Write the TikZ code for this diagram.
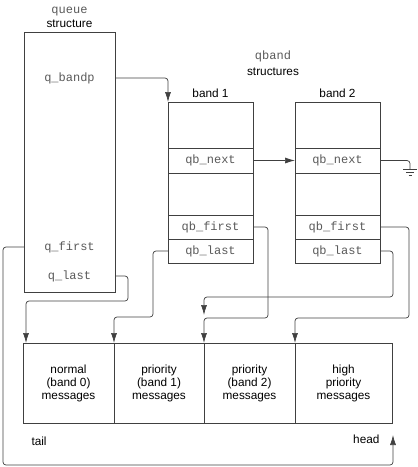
\documentclass[tikz,border=0pt]{standalone}
\usepackage{fontspec}
\setmainfont{Liberation Sans}
\setmonofont{Liberation Mono}
\usepackage{tikz}
\usetikzlibrary{positioning,arrows.meta,calc}

\tikzset{
	box/.style = {draw=black!75, line width=0.8pt, inner sep=0pt, outer sep=0pt},
	cell/.style = {box, minimum width=85pt, font=\fontsize{12}{13}\ttfamily, text=black!65},
	fld/.style = {font=\fontsize{12}{13}\ttfamily, text=black!65},
	lbl/.style = {font=\fontsize{11.8}{13}\selectfont},
	msg/.style = {box, minimum height=80pt, align=center, font=\fontsize{11.8}{13}\selectfont},
	link/.style = {draw=black!75, line width=0.7pt, rounded corners=3pt, -{Latex[length=10pt,width=6pt]}},
	wire/.style = {draw=black!75, line width=0.7pt, rounded corners=3pt}
}

\begin{document}
\begin{tikzpicture}[x=1pt, y=-1pt]
\useasboundingbox (0,0) rectangle (418,467);

% queue structure
\node[fld, anchor=base] (qname) at (69.5,13) {queue};
\node[lbl, anchor=base] (qsub) at (69.5,27) {structure};
\node[box, minimum width=91pt, minimum height=260pt, anchor=north west] (queue) at (24,32) {};
\node[fld] (qbandp) at (69.5,78) {q\_bandp};
\node[fld] (qfirst) at (69.5,247) {q\_first};
\node[fld] (qlast) at (69.5,276) {q\_last};

% qband structures
\node[fld, anchor=base] (qbname) at (273,59) {qband};
\node[lbl, anchor=base] (qbsub) at (273,75) {structures};
\foreach \n/\x in {1/210.5, 2/337.5}{
	\node[cell, minimum height=46pt, anchor=north] (b\n-top) at (\x,102) {};
	\node[lbl, anchor=base] (b\n-name) at ($(b\n-top.north)+(0,-5)$) {band \n};
	\node[cell, minimum height=25pt, below=0pt of b\n-top] (b\n-next) {qb\_next};
	\node[cell, minimum height=42pt, below=0pt of b\n-next] (b\n-gap) {};
	\node[cell, minimum height=24pt, below=0pt of b\n-gap] (b\n-first) {qb\_first};
	\node[cell, minimum height=24pt, below=0pt of b\n-first] (b\n-last) {qb\_last};
}

% message list
\foreach \i/\x/\w/\t in {0/23/91/{normal\\(band 0)\\messages}, 1/114/90/{priority\\(band 1)\\messages},
		2/204/91/{priority\\(band 2)\\messages}, 3/295/97/{high\\priority\\messages}}{
	\node[msg, minimum width=\w pt, anchor=north west] (msg\i) at (\x,343) {\t};
}
\node[lbl, anchor=base west] (tail) at (28,445) {tail};
\node[lbl, anchor=base east] (head) at (383,443) {head};
\coordinate (tip) at ($(msg3.south east)+(1,12)$);
\coordinate (mid) at ($(msg2.north west)+(0,-28)$);
\coordinate (gnd) at (410,169);

% pointers
\draw[link] (queue.east |- qbandp) -| (b1-top.north west);
\draw[link] (b1-next) -- (b2-next);
\draw[wire] (b2-next.east) -| (gnd);
\draw[black!75, line width=0.7pt] ($(gnd)+(-7,0)$) -- ++(14,0) ($(gnd)+(-4,3)$) -- ++(8,0) ($(gnd)+(-1.5,6)$) -- ++(3,0);
\draw[link] (queue.east |- qlast) -| ++(13,25) -| ($(msg0.north west)+(3,0)$);
\draw[link] (queue.west |- qfirst) -| ++(-21,218) -| (tip);
\draw[link] (b1-last.west) -| ++(-15,66) -| (msg1.north west);
\draw[link] (b1-first.east) -| ++(15,91) -| (msg2.north west);
\draw[link] (b2-last.east) -| ++(13,46) -| (mid);
\draw[link] (b2-first.east) -| ++(29,91) -| (msg3.north west);
\end{tikzpicture}
\end{document}
